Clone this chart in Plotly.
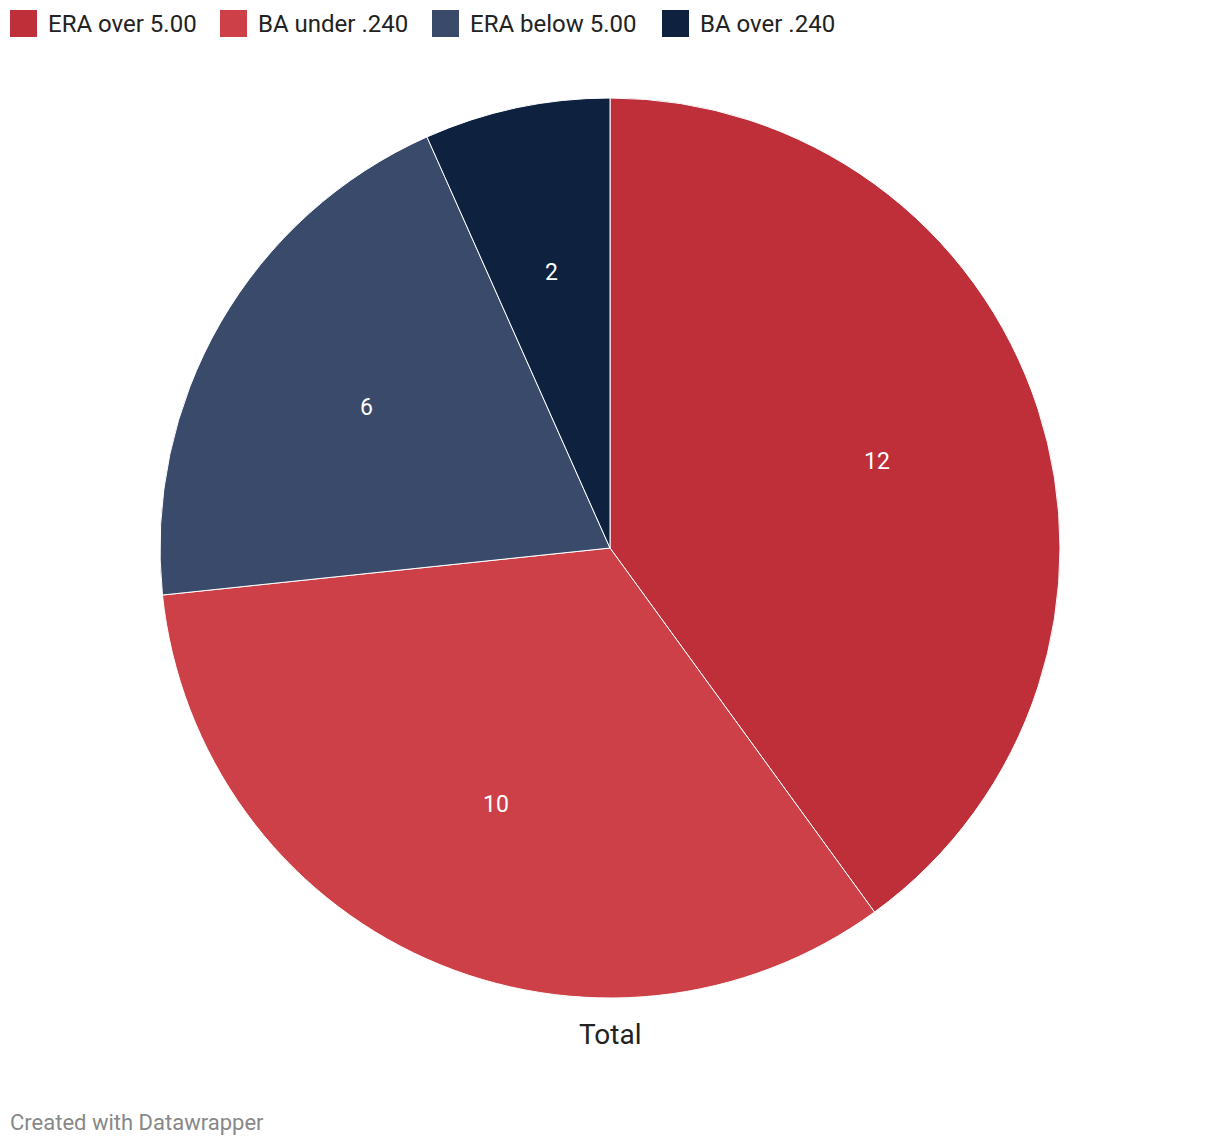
import math
import plotly.graph_objects as go

categories = ["ERA over 5.00", "BA under .240", "ERA below 5.00", "BA over .240"]
values = [12, 10, 6, 2]
colors = ["#be2f3a", "#cd4047", "#3a4a6b", "#0e2240"]
group_label = "Total"
footer = "Created with Datawrapper"

W, H = 1220, 1146
cx, cy, R = 610, 548, 450

fig = go.Figure()
fig.add_trace(go.Pie(
    labels=categories, values=values, sort=False, direction="clockwise", rotation=0,
    marker=dict(colors=colors, line=dict(color="white", width=1)),
    textinfo="none",
    hoverinfo="label+value", showlegend=False,
    domain=dict(x=[(cx - R) / W, (cx + R) / W], y=[1 - (cy + R) / H, 1 - (cy - R) / H]),
))

shapes = []
annotations = []

# value labels placed at mid-angle of each slice, ~0.625 of the radius
total = sum(values)
cum = 0
for v in values:
    mid = (cum + v / 2) / total * 2 * math.pi
    cum += v
    px = cx + 0.625 * R * math.sin(mid)
    py = cy - 0.625 * R * math.cos(mid)
    annotations.append(dict(text=str(v), xref="paper", yref="paper", x=px / W, y=1 - py / H,
                            xanchor="center", yanchor="middle", showarrow=False,
                            font=dict(family="Roboto", size=23, color="white")))

leg_x = [10, 220, 432, 662]
for i, (lab, col) in enumerate(zip(categories, colors)):
    x0 = leg_x[i]
    shapes.append(dict(type="rect", xref="paper", yref="paper",
                       x0=x0 / W, x1=(x0 + 27) / W, y0=1 - 37 / H, y1=1 - 10 / H,
                       fillcolor=col, line=dict(width=0)))
    annotations.append(dict(text=lab, xref="paper", yref="paper", x=(x0 + 36) / W, y=1 - 24 / H,
                            xanchor="left", yanchor="middle", showarrow=False,
                            font=dict(family="Roboto", size=24, color="#222222")))

annotations.append(dict(text=group_label, xref="paper", yref="paper", x=cx / W, y=1 - 1034 / H,
                        xanchor="center", yanchor="middle", showarrow=False,
                        font=dict(family="Roboto", size=28, color="#222222")))
annotations.append(dict(text=footer, xref="paper", yref="paper", x=8 / W, y=1 - 1122 / H,
                        xanchor="left", yanchor="middle", showarrow=False,
                        font=dict(family="Roboto", size=22, color="#888888")))

fig.update_layout(
    width=W, height=H, margin=dict(l=0, r=0, t=0, b=0),
    paper_bgcolor="white", plot_bgcolor="white",
    shapes=shapes, annotations=annotations,
)
fig.write_html("out.html")
